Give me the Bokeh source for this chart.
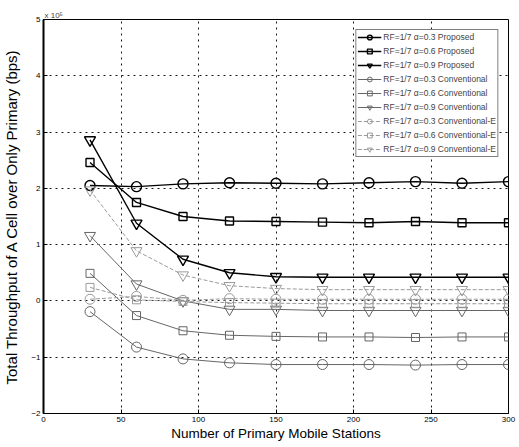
from bokeh.plotting import figure
from bokeh.models import Range1d, FixedTicker, Legend
from bokeh.embed import file_html
from bokeh.resources import INLINE

# Data (throughput in units of 1e5 bps)
stations = [30, 60, 90, 120, 150, 180, 210, 240, 270, 300]
prop_03 = [2.05, 2.03, 2.08, 2.10, 2.09, 2.08, 2.10, 2.12, 2.09, 2.12]
prop_06 = [2.46, 1.75, 1.50, 1.42, 1.41, 1.40, 1.39, 1.41, 1.39, 1.39]
prop_09 = [2.86, 1.38, 0.74, 0.50, 0.43, 0.42, 0.42, 0.42, 0.42, 0.42]
conv_03 = [-0.19, -0.82, -1.03, -1.10, -1.13, -1.13, -1.13, -1.14, -1.13, -1.13]
conv_06 = [0.49, -0.26, -0.53, -0.61, -0.63, -0.64, -0.64, -0.65, -0.64, -0.64]
conv_09 = [1.16, 0.30, 0.00, -0.15, -0.15, -0.17, -0.17, -0.17, -0.17, -0.17]
conve_03 = [0.03, 0.08, 0.01, 0.04, 0.03, 0.03, 0.03, 0.03, 0.03, 0.03]
conve_06 = [0.24, 0.02, -0.01, -0.03, -0.04, -0.05, -0.05, -0.05, -0.05, -0.05]
conve_09 = [1.97, 0.89, 0.46, 0.27, 0.22, 0.20, 0.20, 0.20, 0.20, 0.20]

x_ticks = [0, 50, 100, 150, 200, 250, 300]
y_ticks = [-2, -1, 0, 1, 2, 3, 4, 5]

FONT = "Liberation Sans"

p = figure(width=518, height=446, output_backend="svg", toolbar_location=None,
           x_range=Range1d(0, 300), y_range=Range1d(-2, 5),
           title="x 10\u2075",
           min_border_left=43, min_border_top=19, min_border_right=10, min_border_bottom=33)

p.title.text_font = FONT
p.title.text_font_size = "8px"
p.title.text_font_style = "normal"
p.title.align = "left"
p.title.offset = 1
p.title.standoff = 0

p.outline_line_color = "black"
p.outline_line_width = 1
p.background_fill_color = "white"
p.border_fill_color = "white"

for ax, ticks in ((p.xaxis, x_ticks), (p.yaxis, y_ticks)):
    ax.ticker = FixedTicker(ticks=ticks)
    ax.major_label_text_font = FONT
    ax.major_label_text_font_size = "8px"
    ax.major_label_text_color = "black"
    ax.axis_label_text_font = FONT
    ax.axis_label_text_font_style = "normal"
    ax.axis_label_text_color = "black"
    ax.axis_line_color = "black"
    ax.major_tick_in = 4
    ax.major_tick_out = 0
    ax.minor_tick_line_color = None
    ax.major_tick_line_color = "black"

p.xaxis.axis_label_text_font_size = "13.5px"
p.yaxis.axis_label_text_font_size = "15px"
p.yaxis.axis_line_width = 2
p.xaxis.axis_label = "Number of Primary Mobile Stations"
p.yaxis.axis_label = "Total Throughput of A Cell over Only Primary (bps)"
p.xaxis.axis_label_standoff = 1
p.yaxis.axis_label_standoff = 8
p.xaxis.major_label_standoff = 3
p.yaxis.major_label_standoff = 3

for g in (p.xgrid, p.ygrid):
    g.grid_line_color = "black"
    g.grid_line_dash = "2 4"
    g.grid_line_width = 1
    g.grid_line_alpha = 0.9

series = [
    (prop_03, "circle", "RF=1/7 α=0.3 Proposed", "black", 1.4, "solid", 10),
    (prop_06, "square", "RF=1/7 α=0.6 Proposed", "black", 1.4, "solid", 8),
    (prop_09, "inverted_triangle", "RF=1/7 α=0.9 Proposed", "black", 1.4, "solid", 11),
    (conv_03, "circle", "RF=1/7 α=0.3 Conventional", "#666666", 1.0, "solid", 10),
    (conv_06, "square", "RF=1/7 α=0.6 Conventional", "#666666", 1.0, "solid", 8),
    (conv_09, "inverted_triangle", "RF=1/7 α=0.9 Conventional", "#666666", 1.0, "solid", 11),
    (conve_03, "circle", "RF=1/7 α=0.3 Conventional-E", "#9a9a9a", 1.0, "4 2", 10),
    (conve_06, "square", "RF=1/7 α=0.6 Conventional-E", "#9a9a9a", 1.0, "4 2", 8),
    (conve_09, "inverted_triangle", "RF=1/7 α=0.9 Conventional-E", "#9a9a9a", 1.0, "4 2", 11),
]

items = []
for ys, marker, label, color, lw, dash, size in series:
    r1 = p.line(stations, ys, line_color=color, line_width=lw, line_dash=dash)
    r2 = p.scatter(stations, ys, marker=marker, size=size, line_color=color,
                   fill_color=None, line_width=lw)
    items.append((label, [r1, r2]))

legend = Legend(items=items, location="top_right")
legend.label_text_font = FONT
legend.label_text_font_size = "8.5px"
legend.label_height = 12
legend.glyph_height = 12
legend.glyph_width = 24
legend.spacing = 2
legend.padding = 1
legend.margin = 10
legend.label_standoff = 2
legend.border_line_color = "black"
legend.border_line_width = 1
legend.background_fill_color = "white"
legend.background_fill_alpha = 1
p.add_layout(legend, "center")

open("out.html", "w").write(file_html(p, INLINE))
